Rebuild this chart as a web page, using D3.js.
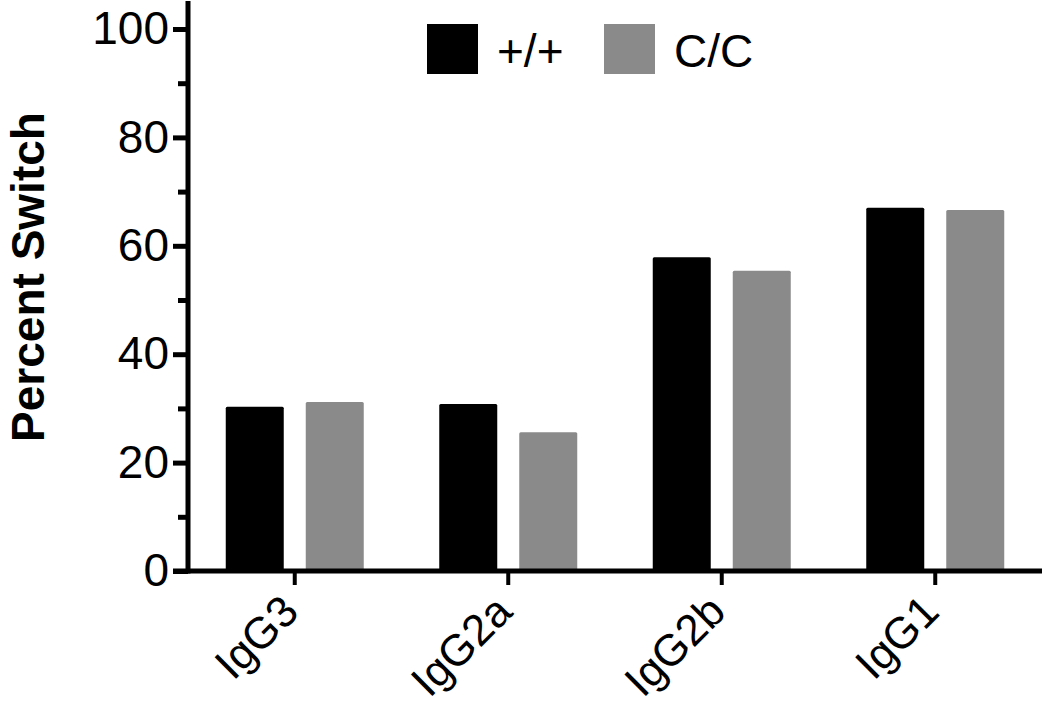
<!DOCTYPE html>
<html>
<head>
<meta charset="utf-8">
<script src="https://cdn.jsdelivr.net/npm/d3@7"></script>
<style>
  body { margin: 0; background: #fff; }
  svg { display: block; font-family: "Liberation Sans", Arial, Helvetica, sans-serif; }
</style>
</head>
<body>
<div id="chart"></div>
<script>
// Percent switch by isotype, +/+ vs C/C
const categories = ['IgG3', 'IgG2a', 'IgG2b', 'IgG1'];
const seriesNames = ['+/+', 'C/C'];
const wildType = [30.3, 30.8, 57.9, 67.0];
const mutant = [31.2, 25.6, 55.4, 66.6];
const yTicks = [0, 20, 40, 60, 80, 100];
const colors = ['#000000', '#8a8a8a'];

const width = 1050, height = 709;
const margin = { left: 188, right: 8, top: 29, bottom: 138 };

const svg = d3.select('#chart').append('svg')
  .attr('width', width)
  .attr('height', height);

const x = d3.scaleBand()
  .domain(categories)
  .range([margin.left, width - margin.right])
  .padding(0);

const y = d3.scaleLinear()
  .domain([0, 100])
  .range([height - margin.bottom, margin.top]);

const barW = 58, gap = 11;
const series = [wildType, mutant];

series.forEach((vals, si) => {
  svg.append('g').selectAll('rect')
    .data(vals)
    .enter()
    .append('rect')
    .attr('x', (d, i) => {
      const c = x(categories[i]) + x.bandwidth() / 2;
      return si === 0 ? c - gap - barW : c + gap;
    })
    .attr('y', d => y(d))
    .attr('width', barW)
    .attr('height', d => y(0) - y(d))
    .attr('rx', 1.5)
    .attr('fill', colors[si]);
});

// y axis with minor ticks
const yAxis = svg.append('g')
  .attr('transform', `translate(${margin.left},0)`)
  .call(d3.axisLeft(y).tickValues(yTicks).tickSize(15).tickPadding(4).tickSizeOuter(0));
svg.append('g')
  .attr('transform', `translate(${margin.left},0)`)
  .call(d3.axisLeft(y).tickValues(d3.range(10, 100, 20)).tickSize(10).tickFormat('').tickSizeOuter(0))
  .call(g => g.select('.domain').remove())
  .selectAll('line').attr('stroke-width', 5);

yAxis.select('.domain').attr('stroke-width', 5).attr('d', `M0,${y(0) + 2.5}V${margin.top - 28}`);
yAxis.selectAll('.tick line').attr('stroke-width', 5);
yAxis.selectAll('.tick text')
  .attr('font-size', 46)
  .attr('fill', '#000');

// x axis
const xAxis = svg.append('g')
  .attr('transform', `translate(0,${y(0)})`)
  .call(d3.axisBottom(x).tickSize(14).tickSizeOuter(0));
xAxis.select('.domain').attr('stroke-width', 5).attr('d', `M${margin.left - 15},0H${width - margin.right}`);
xAxis.selectAll('.tick line').attr('stroke-width', 4);
xAxis.selectAll('.tick text')
  .attr('font-size', 44)
  .attr('fill', '#000')
  .attr('text-anchor', 'end')
  .attr('y', 0)
  .attr('dy', 0)
  .attr('transform', 'translate(6,43) rotate(-45)');

// y label
svg.append('text')
  .attr('transform', `translate(44,277) rotate(-90)`)
  .attr('text-anchor', 'middle')
  .attr('font-size', 46)
  .attr('font-weight', 'bold')
  .text('Percent Switch');

// legend
const legend = svg.append('g');
const legendX = [427, 604];
seriesNames.forEach((name, i) => {
  legend.append('rect')
    .attr('x', legendX[i])
    .attr('y', 24)
    .attr('width', 51)
    .attr('height', 50)
    .attr('fill', colors[i]);
  legend.append('text')
    .attr('x', legendX[i] + 70)
    .attr('y', 67)
    .attr('font-size', 46)
    .text(name);
});
</script>
</body>
</html>
